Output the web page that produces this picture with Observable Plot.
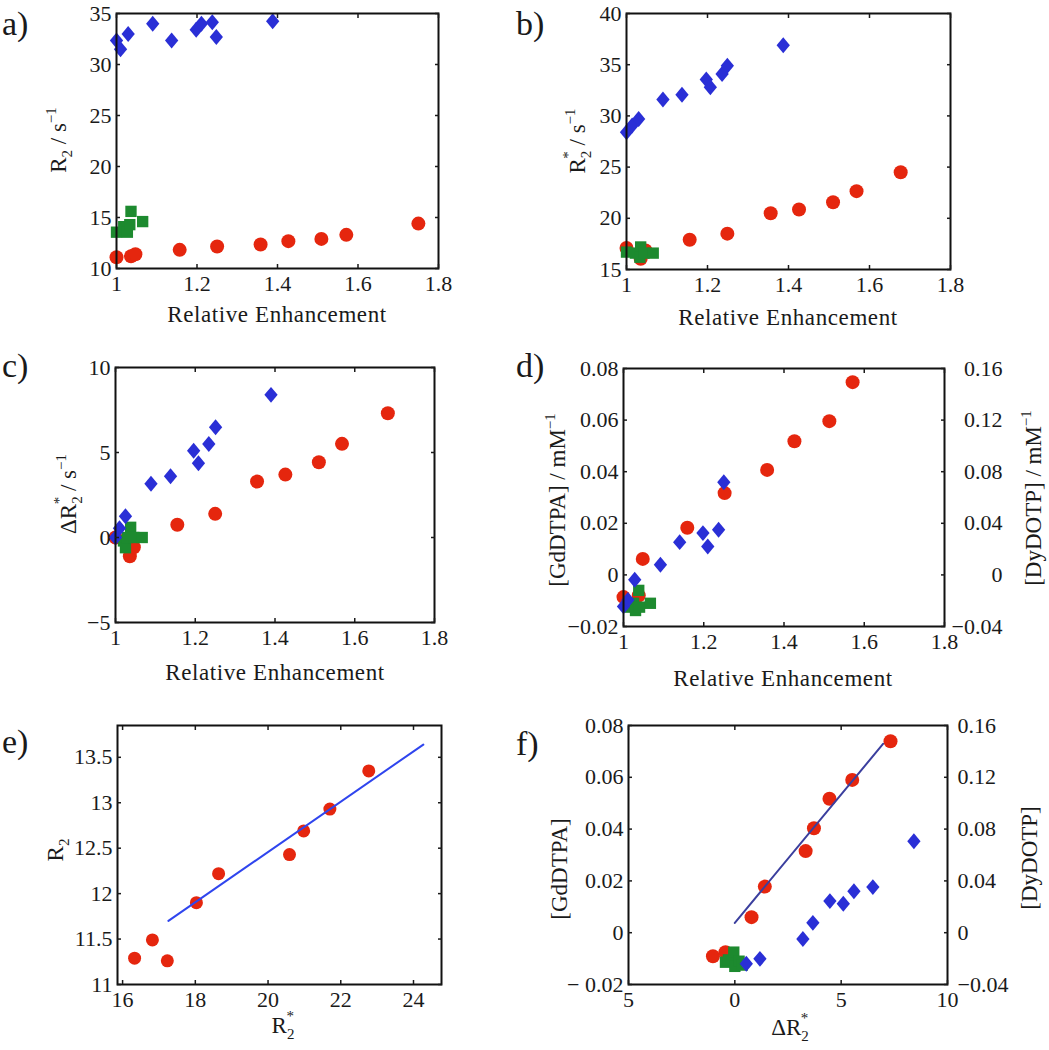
<!DOCTYPE html>
<html><head><meta charset="utf-8">
<script src="https://cdn.jsdelivr.net/npm/d3@7"></script>
<script src="https://cdn.jsdelivr.net/npm/@observablehq/plot@0.6"></script>
<style>
body{margin:0;background:#fff;}
#page{position:relative;width:1049px;height:1050px;overflow:hidden;background:#fff;}
#overlay{position:absolute;left:0;top:0;pointer-events:none;}
svg text{font-family:"Liberation Serif","Times New Roman",serif;}
</style></head><body><div id="page"></div>
<script>
// ---------- data ----------
const reTicks = [1, 1.2, 1.4, 1.6, 1.8];
const reLabels = ["1", "1.2", "1.4", "1.6", "1.8"];

// a) R2 vs relative enhancement
const aRedX = [1.0, 1.036, 1.047, 1.157, 1.25, 1.358, 1.427, 1.509, 1.571, 1.75];
const aRedY = [11.1, 11.2, 11.4, 11.83, 12.16, 12.35, 12.68, 12.9, 13.3, 14.4];
const aGreenX = [1.0, 1.018, 1.027, 1.033, 1.036, 1.065];
const aGreenY = [13.56, 14.1, 13.56, 14.3, 15.6, 14.6];
const aBlueX = [1.0, 1.01, 1.029, 1.09, 1.137, 1.198, 1.211, 1.238, 1.248, 1.388];
const aBlueY = [32.35, 31.5, 33.0, 34.0, 32.35, 33.4, 34.0, 34.15, 32.7, 34.25];
const aYTicks = [10, 15, 20, 25, 30, 35];
const aYLabels = ["10", "15", "20", "25", "30", "35"];

// b) R2* vs relative enhancement
const bRedX = [1.0, 1.035, 1.047, 1.156, 1.249, 1.356, 1.426, 1.51, 1.568, 1.677];
const bRedY = [17.1, 16.05, 16.85, 17.9, 18.5, 20.5, 20.86, 21.57, 22.65, 24.5];
const bGreenX = [1.0, 1.022, 1.035, 1.033, 1.043, 1.066];
const bGreenY = [16.7, 16.6, 17.2, 16.2, 16.6, 16.6];
const bBlueX = [1.0, 1.014, 1.03, 1.09, 1.137, 1.197, 1.207, 1.236, 1.249, 1.387];
const bBlueY = [28.4, 29.07, 29.7, 31.6, 32.07, 33.56, 32.8, 34.1, 34.9, 36.9];
const bYTicks = [15, 20, 25, 30, 35, 40];
const bYLabels = ["15", "20", "25", "30", "35", "40"];

// c) delta R2* vs relative enhancement
const cRedX = [1.0, 1.036, 1.046, 1.155, 1.25, 1.355, 1.426, 1.51, 1.568, 1.683];
const cRedY = [0.0, -1.1, -0.57, 0.75, 1.39, 3.29, 3.7, 4.43, 5.51, 7.31];
const cGreenX = [1.02, 1.025, 1.03, 1.038, 1.046, 1.067];
const cGreenY = [-0.2, -0.6, 0.0, 0.6, 0.0, 0.0];
const cBlueX = [1.0, 1.01, 1.025, 1.089, 1.138, 1.196, 1.208, 1.234, 1.251, 1.39];
const cBlueY = [0.0, 0.55, 1.25, 3.16, 3.6, 5.1, 4.37, 5.5, 6.49, 8.39];
const cYTicks = [-5, 0, 5, 10];
const cYLabels = ["\u22125", "0", "5", "10"];

// d) concentration vs relative enhancement
const dRedX = [1.0, 1.038, 1.048, 1.159, 1.252, 1.358, 1.426, 1.513, 1.571];
const dRedY = [-0.0086, -0.008, 0.0062, 0.0183, 0.0317, 0.0407, 0.0518, 0.0596, 0.0747];
const dGreenX = [1.017, 1.025, 1.03, 1.038, 1.04, 1.067];
const dGreenY = [-0.0125, -0.011, -0.0138, -0.006, -0.0125, -0.011];
const dBlueX = [1.0, 1.011, 1.028, 1.092, 1.14, 1.198, 1.21, 1.237, 1.25];
const dBlueY = [-0.0122, -0.0097, -0.0019, 0.0039, 0.0127, 0.0162, 0.011, 0.0175, 0.0359];
const concTicks = [-0.02, 0, 0.02, 0.04, 0.06, 0.08];
const dLeftLabels = ["\u22120.02", "0", "0.02", "0.04", "0.06", "0.08"];
const dyLabels = ["\u22120.04", "0", "0.04", "0.08", "0.12", "0.16"];

// e) R2 vs R2*
const eX = [16.33, 16.82, 17.23, 18.03, 18.64, 20.59, 20.98, 21.7, 22.77];
const eY = [11.29, 11.49, 11.26, 11.9, 12.22, 12.43, 12.69, 12.93, 13.35];
const eFitX = [17.26, 24.27];
const eFitY = [11.70, 13.64];
const eXTicks = [16, 18, 20, 22, 24];
const eXLabels = ["16", "18", "20", "22", "24"];
const eYTicks = [11, 11.5, 12, 12.5, 13, 13.5];
const eYLabels = ["11", "11.5", "12", "12.5", "13", "13.5"];

// f) concentration vs delta R2*
const fRedX = [-1.03, -0.44, 0.785, 1.41, 3.33, 3.72, 4.45, 5.52, 7.32];
const fRedY = [-0.0091, -0.0075, 0.006, 0.0178, 0.0315, 0.0403, 0.0517, 0.059, 0.0739];
const fGreenX = [-0.44, -0.3, -0.05, 0.0, 0.2, 0.35];
const fGreenY = [-0.0114, -0.0105, -0.0075, -0.013, -0.011, -0.0125];
const fBlueX = [0.54, 1.18, 3.2, 3.67, 4.47, 5.1, 5.6, 6.49, 8.42];
const fBlueY = [-0.012, -0.0101, -0.0024, 0.0038, 0.0122, 0.0112, 0.016, 0.0176, 0.0353];
const fFitX = [0, 6.97];
const fFitY = [0.0038, 0.0729];
const fXTicks = [-5, 0, 5, 10];
const fXLabels = ["5", "0", "5", "10"];
const fLeftLabels = ["\u2212 0.02", "0", "0.02", "0.04", "0.06", "0.08"];

// ---------- styling ----------
const RED = "#e5260e", BLUE = "#2a2fd6", GREEN = "#1d8a2f";
const FONT = '"Liberation Serif", "Times New Roman", serif';
const diamond = {draw(ctx, size) {
  const s = Math.sqrt(size); const w = s * 0.5, h = s * 0.6;
  ctx.moveTo(0, -h); ctx.lineTo(w, 0); ctx.lineTo(0, h); ctx.lineTo(-w, 0); ctx.closePath();
}};
const page = document.getElementById("page");

function dots(X, Y, kind, r) {
  if (kind === "red") return Plot.dot(X, {x: X, y: Y, r: r || 7, fill: RED, stroke: "none"});
  if (kind === "green") return Plot.dot(X, {x: X, y: Y, r: 6.4, symbol: "square", fill: GREEN, stroke: "none"});
  return Plot.dot(X, {x: X, y: Y, r: 7.5, symbol: diamond, fill: BLUE, stroke: "none"});
}

function panel(cfg) {
  const [L, T, R, B] = cfg.frame;
  const ML = 90, MR = cfg.rightLabels ? 100 : 20, MT = 10, MB = 40;
  const xl = new Map(cfg.xTicks.map((t, i) => [t, cfg.xLabels[i]]));
  const yl = new Map(cfg.yTicks.map((t, i) => [t, cfg.yLabels[i]]));
  const marks = [
    ...cfg.marks,
    Plot.frame({stroke: "#111", strokeWidth: 2}),
    Plot.axisX(cfg.xTicks, {anchor: "bottom", tickSize: 0, tickPadding: 7, tickFormat: d => xl.get(d), label: null, fill: "#1a1a1a"}),
    Plot.axisX(cfg.xTicks, {anchor: "bottom", tickSize: -4, fill: "none", label: null, strokeWidth: 1.5}),
    Plot.axisX(cfg.xTicks, {anchor: "top", tickSize: -4, fill: "none", label: null, strokeWidth: 1.5}),
    Plot.axisY(cfg.yTicks, {anchor: "left", tickSize: 0, tickPadding: 5, tickFormat: d => yl.get(d), label: null, fill: "#1a1a1a"}),
    Plot.axisY(cfg.yTicks, {anchor: "left", tickSize: -4, fill: "none", label: null, strokeWidth: 1.5}),
    Plot.axisY(cfg.yTicks, {anchor: "right", tickSize: -4, fill: "none", label: null, strokeWidth: 1.5})
  ];
  if (cfg.rightLabels) {
    const rl = new Map(cfg.yTicks.map((t, i) => [t, cfg.rightLabels[i]]));
    marks.push(Plot.axisY(cfg.yTicks, {anchor: "right", tickSize: 0, tickPadding: cfg.rightPad,
      textAnchor: cfg.rightAnchor, tickFormat: d => rl.get(d), label: null, fill: "#1a1a1a"}));
  }
  const svg = Plot.plot({
    width: ML + (R - L) + MR, height: MT + (B - T) + MB,
    marginLeft: ML, marginRight: MR, marginTop: MT, marginBottom: MB,
    x: {domain: cfg.xDomain}, y: {domain: cfg.yDomain},
    style: {fontFamily: FONT, fontSize: "22px", color: "#1a1a1a", background: "transparent", overflow: "visible"},
    marks
  });
  svg.style.position = "absolute";
  svg.style.left = (L - ML) + "px";
  svg.style.top = (T - MT) + "px";
  page.appendChild(svg);
}

panel({frame: [116, 13, 438, 268], xDomain: [1, 1.8], yDomain: [10, 35],
  xTicks: reTicks, xLabels: reLabels, yTicks: aYTicks, yLabels: aYLabels,
  marks: [dots(aRedX, aRedY, "red"), dots(aGreenX, aGreenY, "green"), dots(aBlueX, aBlueY, "blue")]});
panel({frame: [626, 13, 950, 269], xDomain: [1, 1.8], yDomain: [15, 40],
  xTicks: reTicks, xLabels: reLabels, yTicks: bYTicks, yLabels: bYLabels,
  marks: [dots(bRedX, bRedY, "red"), dots(bGreenX, bGreenY, "green"), dots(bBlueX, bBlueY, "blue")]});
panel({frame: [115, 367, 434, 622], xDomain: [1, 1.8], yDomain: [-5, 10],
  xTicks: reTicks, xLabels: reLabels, yTicks: cYTicks, yLabels: cYLabels,
  marks: [dots(cRedX, cRedY, "red"), dots(cGreenX, cGreenY, "green"), dots(cBlueX, cBlueY, "blue")]});
panel({frame: [623, 368, 944, 626], xDomain: [1, 1.8], yDomain: [-0.02, 0.08],
  xTicks: reTicks, xLabels: reLabels, yTicks: concTicks, yLabels: dLeftLabels,
  rightLabels: dyLabels, rightPad: 58, rightAnchor: "end",
  marks: [dots(dRedX, dRedY, "red"), dots(dGreenX, dGreenY, "green"), dots(dBlueX, dBlueY, "blue")]});
panel({frame: [117, 725, 441, 984], xDomain: [15.86, 24.77], yDomain: [11, 13.85],
  xTicks: eXTicks, xLabels: eXLabels, yTicks: eYTicks, yLabels: eYLabels,
  marks: [dots(eX, eY, "red", 6.5),
    Plot.line(eFitX, {x: eFitX, y: eFitY, stroke: "#2f45ee", strokeWidth: 2})]});
panel({frame: [628, 725, 947, 984], xDomain: [-5, 10], yDomain: [-0.02, 0.08],
  xTicks: fXTicks, xLabels: fXLabels, yTicks: concTicks, yLabels: fLeftLabels,
  rightLabels: dyLabels, rightPad: 10, rightAnchor: "start",
  marks: [dots(fRedX, fRedY, "red"), dots(fGreenX, fGreenY, "green"), dots(fBlueX, fBlueY, "blue"),
    Plot.line(fFitX, {x: fFitX, y: fFitY, stroke: "#3b3f9e", strokeWidth: 2})]});

// ---------- titles and panel letters ----------
const ov = d3.select(page).append("svg").attr("id", "overlay").attr("width", 1049).attr("height", 1050)
  .attr("font-family", FONT).style("fill", "#1a1a1a");

const panelLetters = [["a)", 2, 35], ["b)", 516, 35], ["c)", 2, 377], ["d)", 516, 377], ["e)", 2, 753], ["f)", 516, 755]];
panelLetters.forEach(([t, x, y]) => ov.append("text").attr("x", x).attr("y", y)
  .attr("font-family", FONT).attr("font-size", 34).text(t));

// segments: [text, kind] kind: "n" normal, "sub", "sup", "supback" (superscript stacked above previous subscript)
function label(x, y, segs, rotate) {
  const t = ov.append("text").attr("font-size", 23).attr("font-family", FONT).attr("text-anchor", "middle")
    .attr("transform", `translate(${x},${y})` + (rotate ? " rotate(-90)" : ""));
  let shift = 0;
  segs.forEach(([s, k]) => {
    const sp = t.append("tspan").text(s);
    let target = 0;
    if (k === "sub") { target = 6; sp.attr("font-size", 15); }
    else if (k === "sup") { target = -10; sp.attr("font-size", 15); }
    else if (k === "supback") { target = -12; sp.attr("font-size", 15).attr("dx", -8); }
    sp.attr("dy", target - shift);
    shift = target;
  });
  return t;
}
const RE = [["Relative Enhancement", "n"]];
label(277, 322, RE).attr("letter-spacing", "0.6px");
label(788, 325, RE).attr("letter-spacing", "0.6px");
label(275, 680, RE).attr("letter-spacing", "0.6px");
label(783, 686, RE).attr("letter-spacing", "0.6px");
label(283, 1033, [["R", "n"], ["2", "sub"], ["*", "supback"]]);
label(790, 1035, [["\u0394R", "n"], ["2", "sub"], ["*", "supback"]]);

label(66, 140, [["R", "n"], ["2", "sub"], [" / s", "n"], ["\u22121", "sup"]], true);
label(585, 141, [["R", "n"], ["2", "sub"], ["*", "supback"], [" / s", "n"], ["\u22121", "sup"]], true);
label(76, 494, [["\u0394R", "n"], ["2", "sub"], ["*", "supback"], [" / s", "n"], ["\u22121", "sup"]], true);
label(565, 500, [["[GdDTPA] / mM", "n"], ["\u22121", "sup"]], true);
label(1041, 498, [["[DyDOTP] / mM", "n"], ["\u22121", "sup"]], true);
label(63, 850, [["R", "n"], ["2", "sub"]], true);
label(567, 869, [["[GdDTPA]", "n"]], true);
label(1037, 858, [["[DyDOTP]", "n"]], true);
</script></body></html>
